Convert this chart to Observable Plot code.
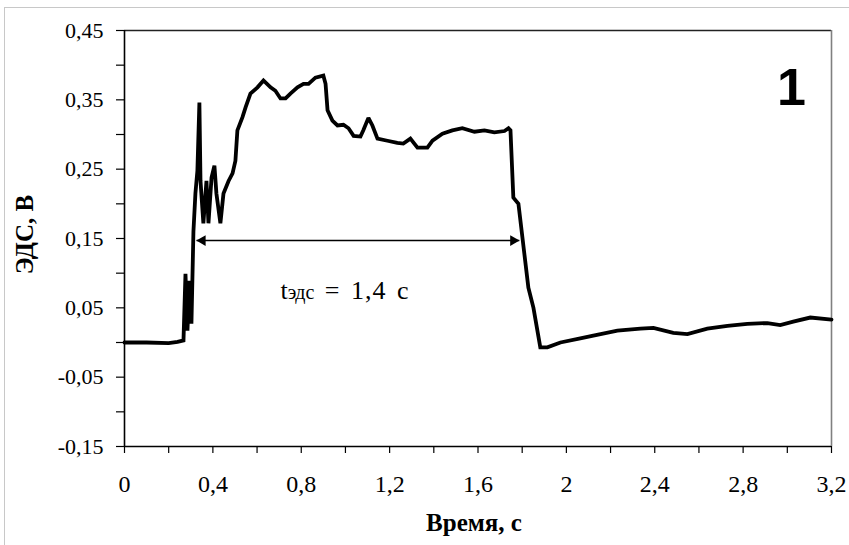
<!DOCTYPE html>
<html>
<head>
<meta charset="utf-8">
<script src="https://cdn.jsdelivr.net/npm/d3@7"></script>
<script src="https://cdn.jsdelivr.net/npm/@observablehq/plot@0.6"></script>
<style>
  html, body { margin: 0; padding: 0; background: #fff; overflow: hidden; }
  #wrap { position: relative; width: 849px; height: 545px; }
  #border { position: absolute; left: 4px; top: 7px; width: 900px; height: 600px;
            border: 1px solid #c8c8c8; pointer-events: none; }
  #chart svg text { font-family: "Liberation Serif", "DejaVu Serif", serif; }
  #chart svg text.sans { font-family: "Liberation Sans", Arial, sans-serif; }
</style>
</head>
<body>
<div id="wrap"><div id="chart"></div><div id="border"></div></div>
<script>
// Time, s
const time = [
  0, 0.1, 0.2, 0.24, 0.267, 0.276, 0.285, 0.294, 0.303, 0.312,
  0.321, 0.33, 0.339, 0.344, 0.357, 0.371, 0.38, 0.394, 0.407, 0.416,
  0.434, 0.448, 0.471, 0.489, 0.502, 0.511, 0.534, 0.548, 0.57, 0.602,
  0.629, 0.661, 0.683, 0.706, 0.729, 0.751, 0.783, 0.81, 0.833, 0.864,
  0.9, 0.91, 0.919, 0.941, 0.964, 0.991, 1.014, 1.037, 1.068, 1.081,
  1.104, 1.122, 1.145, 1.19, 1.235, 1.262, 1.294, 1.326, 1.371, 1.394,
  1.439, 1.484, 1.529, 1.584, 1.629, 1.674, 1.72, 1.738, 1.747, 1.76,
  1.783, 1.828, 1.851, 1.882, 1.914, 1.973, 2.063, 2.122, 2.231, 2.335,
  2.394, 2.484, 2.548, 2.638, 2.729, 2.819, 2.91, 2.968, 3.027, 3.104,
  3.2
];
// EMF (ЭДС), V
const emf = [
  0, 0, -0.001, 0.001, 0.003, 0.099, 0.017, 0.089, 0.027, 0.16,
  0.215, 0.248, 0.346, 0.233, 0.172, 0.233, 0.172, 0.238, 0.255, 0.215,
  0.172, 0.215, 0.233, 0.244, 0.262, 0.306, 0.325, 0.339, 0.359, 0.368,
  0.378, 0.368, 0.363, 0.352, 0.352, 0.359, 0.368, 0.373, 0.373, 0.382,
  0.385, 0.373, 0.335, 0.32, 0.313, 0.314, 0.309, 0.298, 0.297, 0.306,
  0.324, 0.313, 0.294, 0.291, 0.288, 0.287, 0.294, 0.281, 0.281, 0.291,
  0.301, 0.306, 0.309, 0.304, 0.306, 0.303, 0.305, 0.309, 0.306, 0.209,
  0.20, 0.079, 0.05, -0.007, -0.007, 0.0, 0.006, 0.01, 0.017, 0.02,
  0.021, 0.014, 0.012, 0.02, 0.024, 0.027, 0.028, 0.025, 0.03, 0.036,
  0.033
];

// Axis ticks and labels
const xTicks = [0, 0.2, 0.4, 0.6, 0.8, 1.0, 1.2, 1.4, 1.6, 1.8, 2.0, 2.2, 2.4, 2.6, 2.8, 3.0, 3.2];
const xLabelValues = [0, 0.4, 0.8, 1.2, 1.6, 2.0, 2.4, 2.8, 3.2];
const xLabels = ["0", "0,4", "0,8", "1,2", "1,6", "2", "2,4", "2,8", "3,2"];
const yTicks = [-0.15, -0.1, -0.05, 0, 0.05, 0.1, 0.15, 0.2, 0.25, 0.3, 0.35, 0.4, 0.45];
const yLabelValues = [-0.15, -0.05, 0.05, 0.15, 0.25, 0.35, 0.45];
const yLabels = ["-0,15", "-0,05", "0,05", "0,15", "0,25", "0,35", "0,45"];

// Annotation: duration arrow
const arrowStart = [0.326];
const arrowEnd = [1.787];
const arrowLevel = [0.147];
const annotationText = ["tэдс = 1,4 с"];
const annotationPos = [{t: 0.706, v: 0.075}];
const panelLabel = ["1"];
const xTitle = ["Время, с"];
const yTitle = ["ЭДС, В"];

const data = time.map((t, i) => ({t, v: emf[i]}));
const arrow = arrowStart.map((s, i) => ({x1: s, x2: arrowEnd[i], y: arrowLevel[i]}));

const labelOf = (vals, labs) => d => {
  const i = vals.findIndex(v => Math.abs(v - d) < 1e-9);
  return i >= 0 ? labs[i] : "";
};
const serif = "Liberation Serif";

const chart = Plot.plot({
  width: 849,
  height: 545,
  marginLeft: 124,
  marginRight: 18,
  marginTop: 30,
  marginBottom: 99,
  x: {domain: [0, 3.2], axis: null},
  y: {domain: [-0.15, 0.45], axis: null},
  style: {background: "#fff", color: "#000"},
  marks: [
    // frame
    Plot.ruleY([0.45], {stroke: "#222", strokeWidth: 1.3}),
    Plot.ruleX([3.2], {stroke: "#808080", strokeWidth: 1.6}),
    // y axis: ticks and labels
    Plot.axisY(yTicks, {tickSize: 8, tickFormat: () => "", label: null, stroke: "#000", strokeWidth: 1.2}),
    Plot.axisY(yLabelValues, {tickSize: 0, tickPadding: 21, tickFormat: labelOf(yLabelValues, yLabels), label: null, fontSize: 22, fontFamily: serif}),
    // x axis: ticks and labels
    Plot.axisX(xTicks, {tickSize: 7, tickFormat: () => "", label: null, stroke: "#000", strokeWidth: 1.2}),
    Plot.axisX(xLabelValues, {tickSize: 0, tickPadding: 28, tickFormat: labelOf(xLabelValues, xLabels), label: null, fontSize: 24, fontFamily: serif}),
    // axis lines
    Plot.ruleX([0], {stroke: "#000", strokeWidth: 1.6}),
    Plot.ruleY([-0.15], {stroke: "#000", strokeWidth: 1.6}),
    // data
    Plot.line(data, {x: "t", y: "v", stroke: "#000", strokeWidth: 3.8, strokeLinejoin: "miter", strokeMiterlimit: 2}),
    // duration arrow
    Plot.link(arrow, {x1: "x1", x2: "x2", y1: "y", y2: "y", stroke: "#000", strokeWidth: 1.5}),
    Plot.dot(arrow, {x: "x2", y: "y", symbol: "triangle", r: 4, fill: "#000", stroke: null, rotate: 90, dx: -6}),
    Plot.dot(arrow, {x: "x1", y: "y", symbol: "triangle", r: 4, fill: "#000", stroke: null, rotate: -90, dx: 6}),
    Plot.text(annotationPos, {x: "t", y: "v", text: () => annotationText[0], textAnchor: "start", fontSize: 26, fontFamily: serif, fill: "#000"}),
    // titles
    Plot.text(yTitle, {frameAnchor: "left", textAnchor: "middle", lineAnchor: "middle", dx: -100, dy: -4, rotate: -90,
      fontSize: 25, fontWeight: "bold", fontFamily: serif, fill: "#000"}),
    Plot.text(xTitle, {frameAnchor: "bottom", textAnchor: "middle", lineAnchor: "middle", dy: 76, dx: -4,
      fontSize: 25, fontWeight: "bold", fontFamily: serif, fill: "#000"}),
    Plot.text(panelLabel, {frameAnchor: "top-right", textAnchor: "middle", lineAnchor: "middle", dx: -40, dy: 58,
      fontSize: 52, fontWeight: "bold", fontFamily: "Liberation Sans", fill: "#000"})
  ]
});

d3.select(chart).attr("font-family", serif);
d3.select(chart).selectAll("text").filter(function () { return this.textContent === panelLabel[0]; })
  .classed("sans", true);

// Rich text for annotation: small "эдс" after "t"
d3.select(chart).selectAll("text").filter(function () { return this.textContent === annotationText[0]; })
  .each(function () {
    const el = d3.select(this);
    const full = annotationText[0];
    el.text(null);
    el.append("tspan").text(full.slice(0, 1));
    el.append("tspan").attr("font-size", 20).text(full.slice(1, 4));
    el.append("tspan").attr("letter-spacing", 1).attr("word-spacing", 3).text(full.slice(4));
  });

document.getElementById("chart").appendChild(chart);
</script>
</body>
</html>
